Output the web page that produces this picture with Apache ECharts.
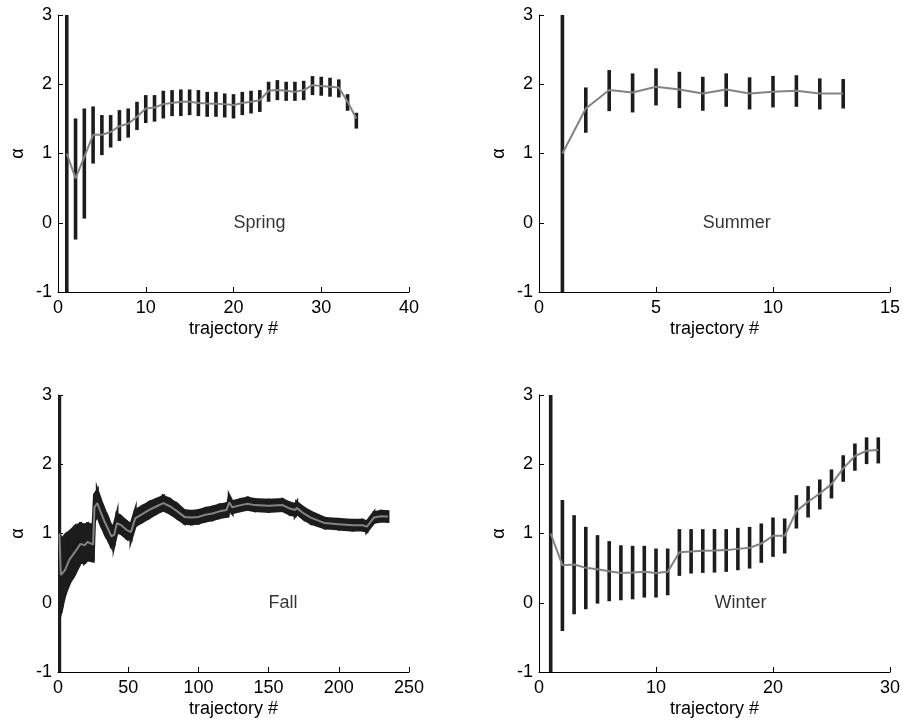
<!DOCTYPE html>
<html><head><meta charset="utf-8">
<script src="https://cdn.jsdelivr.net/npm/echarts@6/dist/echarts.min.js"></script>
<style>html,body{margin:0;padding:0;background:#fff}#c{width:903px;height:721px}</style>
</head><body><div id="c"></div>
<script>
// ---- Spring ----
const springX = [1,2,3,4,5,6,7,8,9,10,11,12,13,14,15,16,17,18,19,20,21,22,23,24,25,26,27,28,29,30,31,32,33,34];
const springMean = [1.00,0.64,0.95,1.27,1.27,1.31,1.395,1.43,1.53,1.65,1.665,1.713,1.73,1.747,1.747,1.73,1.723,1.72,1.713,1.70,1.73,1.747,1.77,1.906,1.916,1.906,1.89,1.916,1.988,1.973,1.964,1.954,1.747,1.506];
const springLow = [-1.5,-0.243,0.06,0.855,0.976,1.087,1.18,1.23,1.34,1.44,1.46,1.506,1.54,1.54,1.554,1.54,1.53,1.53,1.52,1.506,1.554,1.578,1.60,1.747,1.77,1.76,1.76,1.77,1.843,1.834,1.82,1.81,1.617,1.36];
const springHigh = [3.5,1.506,1.65,1.68,1.555,1.555,1.627,1.65,1.747,1.843,1.843,1.906,1.916,1.925,1.925,1.916,1.89,1.89,1.867,1.857,1.89,1.906,1.916,2.036,2.06,2.036,2.036,2.05,2.118,2.108,2.094,2.07,1.857,1.588];
// ---- Summer ----
const summerX = [1,2,3,4,5,6,7,8,9,10,11,12,13];
const summerMean = [1.0,1.65,1.916,1.88,1.964,1.925,1.867,1.925,1.867,1.89,1.906,1.867,1.867];
const summerLow = [-1.5,1.30,1.612,1.593,1.694,1.655,1.617,1.675,1.636,1.665,1.675,1.636,1.65];
const summerHigh = [3.5,1.954,2.205,2.157,2.229,2.18,2.108,2.157,2.10,2.12,2.13,2.084,2.075];
// ---- Fall ----
const fallX = [1,2,3,5,8,12,16,19,21,25,26,28,30,33,36,38,40,42,45,49,52,55,60,65,70,75,80,85,90,95,100,105,110,115,120,121,122,124,130,135,140,150,160,165,169,170,175,180,190,200,210,217,220,225,230,235];
const fallMean = [1.0,0.40,0.40,0.47,0.62,0.73,0.85,0.83,0.88,0.84,1.38,1.44,1.33,1.18,1.05,0.96,0.98,1.15,1.12,1.05,1.02,1.22,1.28,1.34,1.39,1.44,1.39,1.32,1.24,1.23,1.24,1.27,1.29,1.32,1.34,1.34,1.45,1.38,1.41,1.43,1.41,1.40,1.41,1.36,1.34,1.37,1.29,1.23,1.15,1.135,1.12,1.12,1.10,1.23,1.25,1.245];
const fallLow = [-1.5,-0.15,-0.05,0.12,0.28,0.42,0.58,0.58,0.62,0.60,1.18,1.26,1.16,1.02,0.90,0.82,0.84,1.02,1.00,0.93,0.91,1.11,1.17,1.23,1.29,1.34,1.29,1.22,1.15,1.14,1.15,1.18,1.20,1.23,1.25,1.25,1.36,1.30,1.33,1.35,1.33,1.32,1.33,1.28,1.26,1.29,1.21,1.15,1.08,1.065,1.05,1.05,1.03,1.16,1.18,1.175];
const fallHigh = [3.5,0.95,0.92,0.97,1.02,1.10,1.14,1.12,1.14,1.12,1.56,1.62,1.50,1.34,1.20,1.10,1.12,1.28,1.24,1.17,1.13,1.33,1.39,1.45,1.49,1.54,1.49,1.42,1.33,1.32,1.33,1.36,1.38,1.41,1.43,1.43,1.54,1.46,1.49,1.51,1.49,1.48,1.49,1.44,1.42,1.45,1.37,1.31,1.22,1.205,1.19,1.19,1.17,1.30,1.32,1.315];
// ---- Winter ----
const winterX = [1,2,3,4,5,6,7,8,9,10,11,12,13,14,15,16,17,18,19,20,21,22,23,24,25,26,27,28,29];
const winterMean = [1.0,0.542,0.552,0.504,0.484,0.455,0.431,0.436,0.446,0.431,0.446,0.73,0.74,0.75,0.754,0.76,0.778,0.793,0.855,0.966,0.966,1.323,1.458,1.578,1.713,1.94,2.118,2.195,2.205];
const winterLow = [-1.5,-0.407,-0.166,-0.094,-0.012,0.022,0.036,0.05,0.075,0.075,0.108,0.388,0.422,0.431,0.436,0.446,0.47,0.494,0.576,0.663,0.711,1.072,1.231,1.347,1.506,1.747,1.906,2.002,2.012];
const winterHigh = [3.5,1.482,1.265,1.096,0.976,0.89,0.83,0.822,0.822,0.783,0.783,1.063,1.063,1.063,1.063,1.063,1.082,1.096,1.145,1.231,1.217,1.554,1.684,1.78,1.925,2.13,2.3,2.388,2.388];
// ---- axes / labels ----
const panelNames = ['Spring','Summer','Fall','Winter'];
const xMaxes = [40,15,250,30];
const xIntervals = [10,5,50,10];
const labelAt = [[20,0],[7,0],[150,0],[15,0]];
const yTicks = [-1,0,1,2,3];
const xName = 'trajectory #';
const yName = 'α';

const FONT = '"Liberation Sans", Arial, Helvetica, sans-serif';
const BAR = '#1c1c1c';
const LINE = '#838383';
const gridRects = [[58,15],[539,15],[58,395],[539,395]];
const GW = 351, GH = 277;

const panels = [
  {x:springX, mean:springMean, low:springLow, high:springHigh, band:false},
  {x:summerX, mean:summerMean, low:summerLow, high:summerHigh, band:false},
  {x:fallX, mean:fallMean, low:fallLow, high:fallHigh, band:true},
  {x:winterX, mean:winterMean, low:winterLow, high:winterHigh, band:false}
];

function barItem(params, api){
  const x = api.value(0), lo = api.value(1), hi = api.value(2);
  const a = api.coord([x, lo]), b = api.coord([x, hi]);
  return {type:'line', shape:{x1:a[0], y1:a[1], x2:b[0], y2:b[1]},
    style:{stroke:BAR, lineWidth:3.6, lineCap:'butt'}};
}
function makeBand(p){
  return function(params, api){
    const i = params.dataIndex + 1;
    if (i + 1 >= p.x.length) return null;
    const pts = [
      api.coord([p.x[i], p.low[i]]), api.coord([p.x[i], p.high[i]]),
      api.coord([p.x[i+1], p.high[i+1]]), api.coord([p.x[i+1], p.low[i+1]])
    ];
    return {type:'polygon', shape:{points:pts}, style:{fill:BAR, stroke:BAR, lineWidth:3, lineJoin:'miter'}};
  };
}

const grid = [], xAxis = [], yAxis = [], series = [];
panels.forEach((p, k) => {
  grid.push({left:gridRects[k][0], top:gridRects[k][1], width:GW, height:GH, containLabel:false});
  xAxis.push({type:'value', gridIndex:k, min:0, max:xMaxes[k], interval:xIntervals[k],
    axisLine:{show:true, onZero:false, lineStyle:{color:'#000', width:1}},
    axisTick:{show:true, inside:true, length:5, lineStyle:{color:'#000'}},
    splitLine:{show:false},
    axisLabel:{color:'#000', fontSize:18, fontFamily:FONT, margin:7},
    name:xName, nameLocation:'middle', nameGap:28,
    nameTextStyle:{color:'#000', fontSize:18, fontFamily:FONT}});
  yAxis.push({type:'value', gridIndex:k, min:yTicks[0], max:yTicks[yTicks.length-1], interval:1,
    axisLine:{show:true, onZero:false, lineStyle:{color:'#000', width:1}},
    axisTick:{show:true, inside:true, length:5, lineStyle:{color:'#000'}},
    splitLine:{show:false},
    axisLabel:{color:'#000', fontSize:18, fontFamily:FONT, margin:6},
    name:yName, nameLocation:'middle', nameGap:31, nameRotate:90,
    nameTextStyle:{color:'#000', fontSize:18, fontFamily:FONT}});
  const barIdx = p.band ? [0] : p.x.map((_, i) => i);
  series.push({type:'custom', xAxisIndex:k, yAxisIndex:k, clip:true, renderItem:barItem,
    encode:{x:0, y:[1,2]}, silent:true, z:2,
    data: barIdx.map(i => [p.x[i], p.low[i], p.high[i]])});
  if (p.band) {
    series.push({type:'custom', xAxisIndex:k, yAxisIndex:k, clip:true, renderItem:makeBand(p),
      encode:{x:0, y:[1,2]}, silent:true, z:2,
      data: p.x.slice(1, p.x.length - 1).map((x, j) => [x, p.low[j+1], p.high[j+1]])});
  }
  series.push({type:'line', xAxisIndex:k, yAxisIndex:k, showSymbol:false, symbol:'none', silent:true, z:3,
    lineStyle:{color:LINE, width:2}, data: p.x.map((x, i) => [x, p.mean[i]])});
  series.push({type:'scatter', xAxisIndex:k, yAxisIndex:k, symbolSize:0, silent:true, z:4,
    data:[labelAt[k]],
    label:{show:true, position:'right', distance:0, formatter:panelNames[k], color:'#000',
      fontSize:18, fontFamily:FONT}});
});

const chart = echarts.init(document.getElementById('c'), null, {renderer:'canvas'});
chart.setOption({animation:false, backgroundColor:'#fff', grid, xAxis, yAxis, series});
</script>
</body></html>
